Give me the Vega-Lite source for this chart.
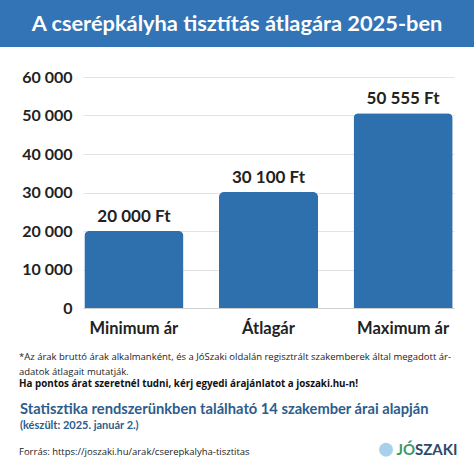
{
  "$schema": "https://vega.github.io/schema/vega-lite/v6.json",
  "padding": 0,
  "background": "white",
  "spacing": 22,
  "vconcat": [
    {
      "width": 474,
      "height": 47,
      "view": {"fill": "#3274b5", "stroke": null},
      "data": {"values": [{"t": "A cserépkályha tisztítás átlagára 2025-ben"}]},
      "mark": {"type": "text", "color": "white", "font": "Lato", "fontSize": 21.8, "fontWeight": "bold"},
      "encoding": {"text": {"field": "t", "type": "nominal"}}
    },
    {
      "spacing": 12,
      "vconcat": [
        {
          "spacing": 0,
          "hconcat": [
            {
              "width": 1,
              "height": 231,
              "view": {"stroke": null, "fill": "white"},
              "data": {"values": [{"t": ""}]},
              "mark": {"type": "text"},
              "encoding": {"text": {"field": "t", "type": "nominal"}}
            },
            {
              "width": 371,
              "height": 231,
              "view": {"stroke": null, "fill": "white"},
              "data": {"values": [
                {"cat": "Minimum ár", "value": 20000},
                {"cat": "Átlagár", "value": 30100},
                {"cat": "Maximum ár", "value": 50555}
              ]},
              "title": {
                "text": ["*Az árak bruttó árak alkalmanként, és a JóSzaki oldalán regisztrált szakemberek által megadott ár-", "adatok átlagait mutatják."],
                "subtitle": "Ha pontos árat szeretnél tudni, kérj egyedi árajánlatot a joszaki.hu-n!",
                "orient": "bottom",
                "anchor": "start",
                "frame": "group",
                "dx": -64,
                "offset": 15,
                "font": "Open Sans",
                "fontSize": 9.5,
                "fontWeight": "normal",
                "color": "#222",
                "lineHeight": 15,
                "subtitleFont": "Open Sans",
                "subtitleFontSize": 9.8,
                "subtitleFontWeight": "bold",
                "subtitleColor": "#111",
                "subtitlePadding": 3
              },
              "encoding": {
                "x": {
                  "field": "cat", "type": "nominal", "sort": null,
                  "scale": {"paddingInner": 0.264, "paddingOuter": 0.01},
                  "axis": {"title": null, "labelAngle": 0, "domain": true, "domainColor": "#d0d0d0", "ticks": false, "labelPadding": 12, "labelFont": "Lato", "labelFontSize": 16.5, "labelFontWeight": "bold", "labelColor": "#222", "grid": false}
                },
                "y": {
                  "field": "value", "type": "quantitative",
                  "scale": {"domain": [0, 60000], "nice": false},
                  "axis": {"title": null, "values": [0, 10000, 20000, 30000, 40000, 50000, 60000], "format": ",d", "domain": false, "ticks": false, "labelPadding": 11, "labelFont": "Lato", "labelFontSize": 16, "labelFontWeight": "bold", "labelColor": "#222", "gridColor": "#e3e3e3", "minExtent": 82}
                }
              },
              "layer": [
                {"mark": {"type": "bar", "color": "#2e6fad", "cornerRadiusTopLeft": 5, "cornerRadiusTopRight": 5}},
                {
                  "mark": {"type": "text", "dy": -14, "baseline": "middle", "font": "Lato", "fontSize": 17, "fontWeight": "bold", "color": "#222"},
                  "encoding": {"text": {"field": "value", "type": "quantitative", "format": "$,d"}}
                }
              ]
            }
          ]
        },
        {
          "spacing": -8,
          "vconcat": [
            {
              "width": 474,
              "height": 1,
              "view": {"stroke": null, "fill": "white"},
              "data": {"values": [{"t": ""}]},
              "mark": {"type": "text"},
              "encoding": {"text": {"field": "t", "type": "nominal"}},
              "title": {
                "text": "Statisztika rendszerünkben található 14 szakember árai alapján",
                "subtitle": "(készült: 2025. január 2.)",
                "anchor": "start",
                "frame": "group",
                "dx": 20,
                "font": "Lato",
                "fontSize": 14.7,
                "fontWeight": "bold",
                "color": "#2d5d8c",
                "subtitleFont": "Lato",
                "subtitleFontSize": 11,
                "subtitleFontWeight": "bold",
                "subtitleColor": "#2d5d8c",
                "subtitlePadding": 3,
                "offset": 2
              }
            },
            {
              "spacing": 0,
              "hconcat": [
                {
                  "width": 365,
                  "height": 1,
                  "view": {"stroke": null, "fill": "white"},
                  "data": {"values": [{"t": ""}]},
                  "mark": {"type": "text"},
                  "encoding": {"text": {"field": "t", "type": "nominal"}},
                  "title": {
                    "text": "Forrás: https://joszaki.hu/arak/cserepkalyha-tisztitas",
                    "anchor": "start",
                    "frame": "group",
                    "dx": 19,
                    "font": "Open Sans",
                    "fontSize": 9.5,
                    "fontWeight": "normal",
                    "color": "#222",
                    "offset": 0
                  }
                },
                {
                  "width": 100,
                  "height": 1,
                  "view": {"stroke": null, "fill": "white"},
                  "layer": [
                    {
                      "data": {"values": [{"t": "●"}]},
                      "mark": {"type": "text", "dx": -29, "dy": -12.5, "fontSize": 28, "color": "#a9d0ea"},
                      "encoding": {"text": {"field": "t", "type": "nominal"}}
                    },
                    {
                      "data": {"values": [{"t": "JÓ"}]},
                      "mark": {"type": "text", "align": "right", "dy": -12.5, "font": "Lato", "fontSize": 15, "fontWeight": "bold", "color": "#3a9a6b"},
                      "encoding": {"text": {"field": "t", "type": "nominal"}}
                    },
                    {
                      "data": {"values": [{"t": "SZAKI"}]},
                      "mark": {"type": "text", "align": "left", "dy": -12.5, "font": "Lato", "fontSize": 15, "fontWeight": "bold", "color": "#2b4a6e"},
                      "encoding": {"text": {"field": "t", "type": "nominal"}}
                    }
                  ]
                }
              ]
            }
          ]
        }
      ]
    }
  ],
  "config": {
    "locale": {"number": {"decimal": ",", "thousands": " ", "grouping": [3], "currency": ["", " Ft"]}},
    "view": {"stroke": null},
    "font": "Lato"
  }
}
